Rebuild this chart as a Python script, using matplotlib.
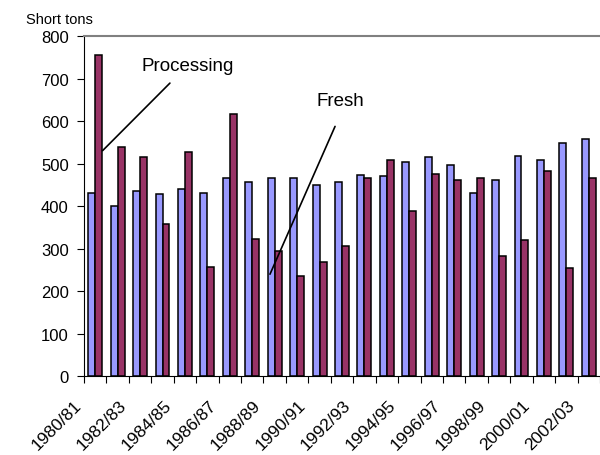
import numpy as np
import matplotlib
matplotlib.use("Agg")
import matplotlib.pyplot as plt
import matplotlib.transforms as mtransforms

plt.rcParams['font.family'] = ['Liberation Sans', 'DejaVu Sans']

seasons = ["1980/81", "1981/82", "1982/83", "1983/84", "1984/85", "1985/86",
           "1986/87", "1987/88", "1988/89", "1989/90", "1990/91", "1991/92",
           "1992/93", "1993/94", "1994/95", "1995/96", "1996/97", "1997/98",
           "1998/99", "1999/00", "2000/01", "2001/02", "2002/03"]
fresh = [431, 401, 436, 428, 441, 431, 467, 458, 466, 466, 449, 458,
         474, 471, 505, 515, 497, 432, 462, 518, 510, 548, 558]
processing = [756, 540, 515, 358, 527, 258, 617, 324, 294, 236, 268, 307,
              467, 510, 388, 475, 462, 467, 284, 320, 484, 255, 467]

x = np.arange(len(seasons))
w = 0.31

fig = plt.figure(figsize=(6, 4.56), dpi=100)
ax = fig.add_axes([0.14, 0.173, 0.86, 0.745])

ax.bar(x - w / 2, fresh, w, color='#9999FF', edgecolor='black', linewidth=1.1)
ax.bar(x + w / 2, processing, w, color='#993366', edgecolor='black', linewidth=1.1)

ax.set_xlim(-0.5, len(seasons) - 0.5)
ax.set_ylim(0, 800)
ax.set_yticks(range(0, 801, 100))
ax.tick_params(axis='y', direction='out', length=5, labelsize=12, pad=6)

# ticks between categories, labels on every other season
ax.set_xticks(np.arange(-0.5, len(seasons), 1))
ax.set_xticklabels([])
ax.tick_params(axis='x', which='major', direction='out', length=5)
ax.set_xticks(x[::2], minor=True)
ax.set_xticklabels(seasons[::2], minor=True, rotation=45, ha='right', fontsize=12.5)
ax.tick_params(axis='x', which='minor', length=0, pad=15)
shift = mtransforms.ScaledTranslation(-0.11, 0, fig.dpi_scale_trans)
for lbl in ax.get_xticklabels(minor=True):
    lbl.set_transform(lbl.get_transform() + shift)

ax.spines['top'].set_color('#808080')
ax.spines['top'].set_linewidth(1.5)
ax.spines['right'].set_visible(False)

ax.text(-0.047, 1.03, "Short tons", transform=ax.transAxes, fontsize=10.5,
        ha='center', va='bottom')

# callout lines
ax.annotate("", xy=(0.33, 531), xytext=(3.33, 690),
            arrowprops=dict(arrowstyle='-', color='black', lw=1.2,
                            shrinkA=0, shrinkB=0))
ax.annotate("", xy=(7.79, 240), xytext=(10.69, 588),
            arrowprops=dict(arrowstyle='-', color='black', lw=1.2,
                            shrinkA=0, shrinkB=0))
ax.text(4.13, 731, "Processing", fontsize=13.5, ha='center', va='center')
ax.text(10.91, 648, "Fresh", fontsize=13.5, ha='center', va='center')

plt.savefig("out.png")
plt.close()
